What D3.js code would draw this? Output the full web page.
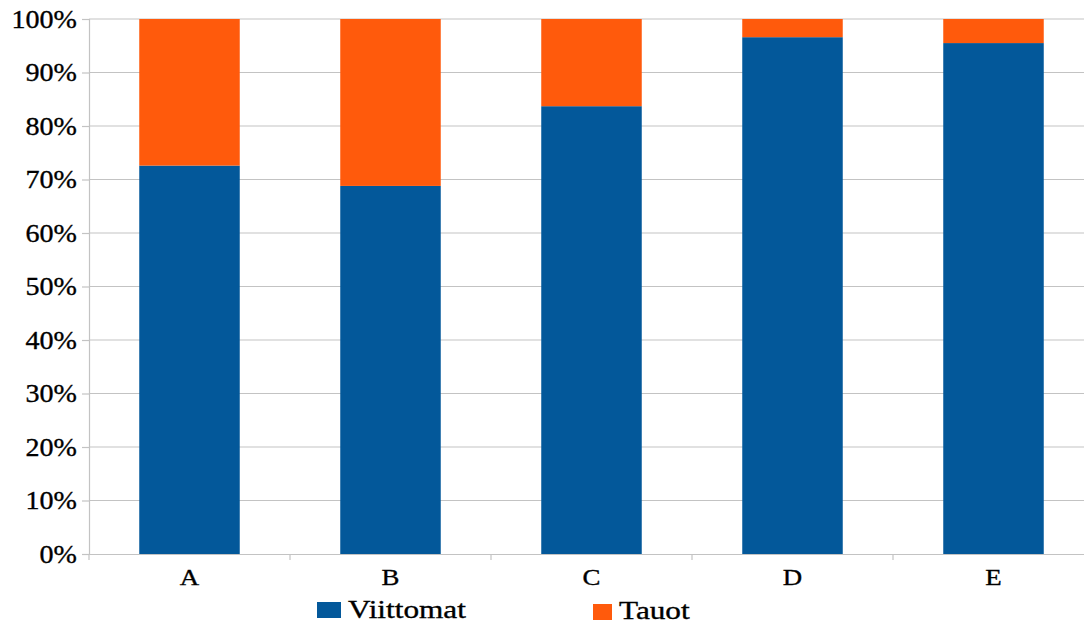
<!DOCTYPE html>
<html><head><meta charset="utf-8">
<script src="https://cdn.jsdelivr.net/npm/d3@7"></script>
<style>body{margin:0;background:#fff}svg{display:block}
svg text{font-family:"Liberation Serif","Times New Roman",Times,serif;fill:#000;stroke:#000;stroke-width:0.35px}</style>
</head><body>
<svg id="chart" width="1084" height="625"></svg>
<script>
const categories = ["A","B","C","D","E"];
const viittomat = [72.6, 68.8, 83.7, 96.6, 95.5];
const tauot = [27.4, 31.2, 16.3, 3.4, 4.5];
const seriesNames = ["Viittomat","Tauot"];
const yTicks = [0,10,20,30,40,50,60,70,80,90,100];
const colors = ["#03589a","#ff5a0c"];

(function(){
const svg = d3.select("#chart");
const mLeft = 89, mRight = 1094, mTop = 19, mBottom = 554;
const x = d3.scaleBand().domain(categories).range([mLeft, mRight]).paddingInner(0.5).paddingOuter(0.25);
const xb = d3.scaleBand().domain(categories).range([mLeft, mRight]);
const y = d3.scaleLinear().domain([0,100]).range([mBottom, mTop]);

// gridlines
svg.append("g").selectAll("line").data(yTicks.filter(d=>d>0)).join("line")
  .attr("x1", mLeft).attr("x2", mRight)
  .attr("y1", d=>y(d)).attr("y2", d=>y(d))
  .attr("stroke", "#c3c3c3").attr("stroke-width", 1.2);

// y axis
const yAxis = svg.append("g").attr("transform", `translate(${mLeft},0)`)
  .call(d3.axisLeft(y).tickValues(yTicks).tickFormat(d=>d+"%").tickSize(7).tickPadding(3));
yAxis.attr("font-family", null);
yAxis.select(".domain").attr("stroke","#c3c3c3").attr("stroke-width",1.2);
yAxis.selectAll(".tick line").attr("stroke","#c3c3c3").attr("stroke-width",1.2);
yAxis.selectAll("text").attr("font-size", 26)
  .attr("dy","0.32em").attr("x", 0)
  .attr("transform", "translate(-12,0) scale(1.08,1)");

// x axis
const xAxis = svg.append("g").attr("transform", `translate(0,${mBottom})`)
  .call(d3.axisBottom(xb).tickSize(0).tickPadding(0));
xAxis.attr("font-family", null);
xAxis.select(".domain").attr("stroke","#c3c3c3").attr("stroke-width",1.2);
xAxis.selectAll("text").attr("font-size", 24)
  .attr("y", 0).attr("dy", 0)
  .attr("transform", "translate(0,31) scale(1.12,1)");
// x boundary ticks
svg.append("g").selectAll("line").data(categories).join("line")
  .attr("x1", d=>xb(d)).attr("x2", d=>xb(d))
  .attr("y1", mBottom).attr("y2", mBottom+6)
  .attr("stroke","#c3c3c3").attr("stroke-width",1.2);

// stacked bars
const rows = categories.map((c,i)=>({cat:c, Viittomat:viittomat[i], Tauot:tauot[i]}));
const stack = d3.stack().keys(seriesNames)(rows);
svg.append("g").selectAll("g").data(stack).join("g")
  .attr("fill", (d,i)=>colors[i])
  .selectAll("rect").data(d=>d).join("rect")
  .attr("x", d=>x(d.data.cat))
  .attr("width", x.bandwidth())
  .attr("y", d=>y(Math.min(100,d[1])))
  .attr("height", d=>y(d[0]) - y(Math.min(100,d[1])));

// legend
const legend = [
  {name: seriesNames[0], color: colors[0], rx: 317, ry: 602, w: 24, h: 16, tx: 348, ty: 618},
  {name: seriesNames[1], color: colors[1], rx: 593, ry: 604, w: 19, h: 16, tx: 619, ty: 619}
];
const lg = svg.append("g");
lg.selectAll("rect").data(legend).join("rect")
  .attr("x", d=>d.rx).attr("y", d=>d.ry).attr("width", d=>d.w).attr("height", d=>d.h)
  .attr("fill", d=>d.color);
lg.selectAll("text").data(legend).join("text")
  .attr("x", 0).attr("y", 0)
  .attr("transform", d=>`translate(${d.tx},${d.ty}) scale(1.25,1)`)
  .attr("font-size", 25)
  .text(d=>d.name);
})();
</script>
</body></html>
